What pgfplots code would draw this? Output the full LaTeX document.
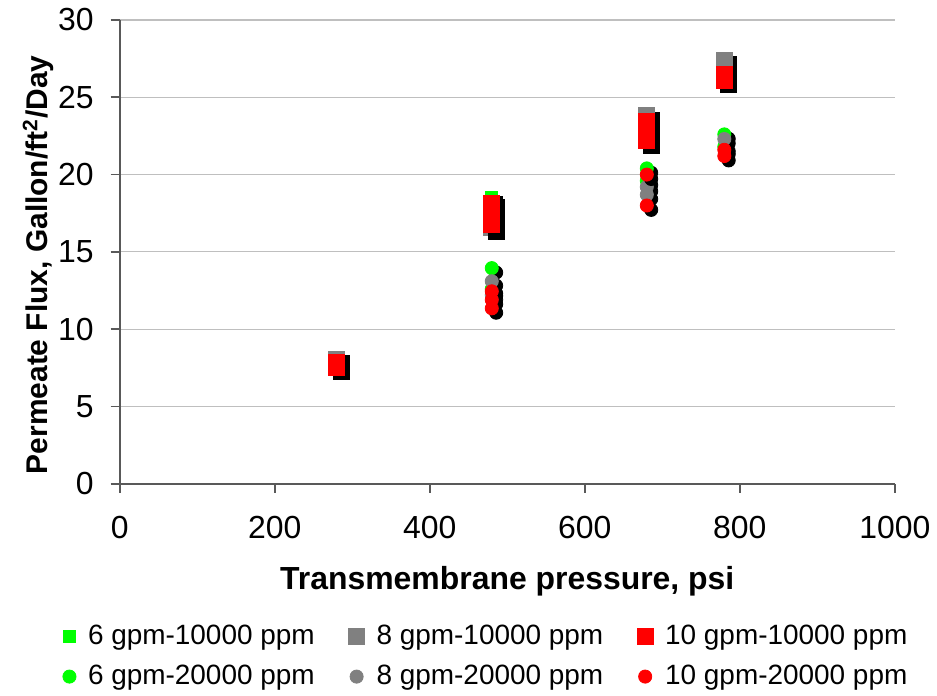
\documentclass[border=0pt]{standalone}
\usepackage{fontspec}
\setmainfont{Liberation Sans}
\usepackage{pgfplots}
\pgfplotsset{compat=1.18}
\definecolor{cgreen}{RGB}{0,255,0}
\definecolor{cgray}{RGB}{128,128,128}
\definecolor{cred}{RGB}{255,0,0}
\pgfplotsset{
  shadowplot/.style={only marks, forget plot, color=black, mark options={fill=black,draw=black,xshift=2.2pt,yshift=-2.2pt}},
}
\begin{document}
\begin{tikzpicture}
\begin{axis}[name=ax, scale only axis, width=388.5pt, height=232.5pt,
  xmin=0, xmax=1000, ymin=0, ymax=30,
  xtick={0,200,...,1000}, ytick={0,5,...,30},
  axis x line*=bottom, axis y line*=left,
  axis line style={black!65, line width=0.8pt, -},
  ymajorgrids, grid style={black!25, line width=0.6pt},
  tick align=outside, major tick length=4.5pt, tick style={black!65, line width=0.8pt},
  /pgf/number format/assume math mode=true,
  /pgf/number format/set thousands separator={},
  ticklabel style={font=\fontsize{16}{18}\selectfont},
  xticklabel style={yshift=-8pt},
  yticklabel style={xshift=-5pt},
  xlabel={Transmembrane pressure, psi},
  ylabel={Permeate Flux, Gallon/ft\textsuperscript{2}/Day},
  xlabel style={font=\fontsize{16}{18}\selectfont\bfseries, at={(axis description cs:0.5,-0.21)}, anchor=center},
  ylabel style={font=\fontsize{15}{18}\selectfont\bfseries, at={(axis description cs:-0.105,0.472)}, anchor=center},
  legend columns=3,
  legend cell align=left,
  legend style={at={(axis description cs:0.474,-0.286)}, anchor=north, draw=none, fill=none,
    font=\fontsize{14}{16}\selectfont, row sep=5pt,
    /tikz/every odd column/.append style={column sep=4pt},
    /tikz/every even column/.append style={column sep=15pt}},
  legend image code/.code={\draw[mark repeat=2,mark phase=2,#1] plot coordinates {(-4pt,0pt)(0pt,0pt)(4pt,0pt)};},
]
% 6 gpm-10000 ppm
\addplot[shadowplot, mark=square*, mark size=3pt] table {
x y
280 7.7
480 18.5
480 17.6
680 23.9
680 22.6
780 26.8
};
\addplot[only marks, mark=square*, mark size=3pt, color=cgreen, mark options={fill=cgreen,draw=cgreen}] table {
x y
280 7.7
480 18.5
480 17.6
680 23.9
680 22.6
780 26.8
};
\addlegendentry{6 gpm-10000 ppm}
% 8 gpm-10000 ppm
\addplot[shadowplot, mark=square*, mark size=4pt] table {
x y
280 8.05
480 17.9
480 16.6
680 23.8
680 22.5
780 27.4
};
\addplot[only marks, mark=square*, mark size=4pt, color=cgray, mark options={fill=cgray,draw=cgray}] table {
x y
280 8.05
480 17.9
480 16.6
680 23.8
680 22.5
780 27.4
};
\addlegendentry{8 gpm-10000 ppm}
% 10 gpm-10000 ppm
\addplot[shadowplot, mark=square*, mark size=4pt] table {
x y
280 7.85
280 7.55
480 18.15
480 17.7
480 17.2
480 16.8
680 23.45
680 22.8
680 22.2
780 26.5
780 26.1
};
\addplot[only marks, mark=square*, mark size=4pt, color=cred, mark options={fill=cred,draw=cred}] table {
x y
280 7.85
280 7.55
480 18.15
480 17.7
480 17.2
480 16.8
680 23.45
680 22.8
680 22.2
780 26.5
780 26.1
};
\addlegendentry{10 gpm-10000 ppm}
% 6 gpm-20000 ppm
\addplot[shadowplot, mark=*, mark size=3.3pt] table {
x y
480 13.95
480 12.6
680 20.4
680 19.6
780 22.6
780 21.8
};
\addplot[only marks, mark=*, mark size=3.3pt, color=cgreen, mark options={fill=cgreen,draw=cgreen}] table {
x y
480 13.95
480 12.6
680 20.4
680 19.6
780 22.6
780 21.8
};
\addlegendentry{6 gpm-20000 ppm}
% 8 gpm-20000 ppm
\addplot[shadowplot, mark=*, mark size=3.3pt] table {
x y
480 13.1
480 12.2
680 19.2
680 18.7
780 22.3
};
\addplot[only marks, mark=*, mark size=3.3pt, color=cgray, mark options={fill=cgray,draw=cgray}] table {
x y
480 13.1
480 12.2
680 19.2
680 18.7
780 22.3
};
\addlegendentry{8 gpm-20000 ppm}
% 10 gpm-20000 ppm
\addplot[shadowplot, mark=*, mark size=3.3pt] table {
x y
480 12.45
480 11.9
480 11.35
680 20.0
680 18.0
780 21.6
780 21.2
};
\addplot[only marks, mark=*, mark size=3.3pt, color=cred, mark options={fill=cred,draw=cred}] table {
x y
480 12.45
480 11.9
480 11.35
680 20.0
680 18.0
780 21.6
780 21.2
};
\addlegendentry{10 gpm-20000 ppm}
\end{axis}
\path[use as bounding box] ([xshift=-60pt,yshift=-105.5pt]ax.south west) rectangle ([xshift=20pt,yshift=10pt]ax.north east);
\end{tikzpicture}
\end{document}
